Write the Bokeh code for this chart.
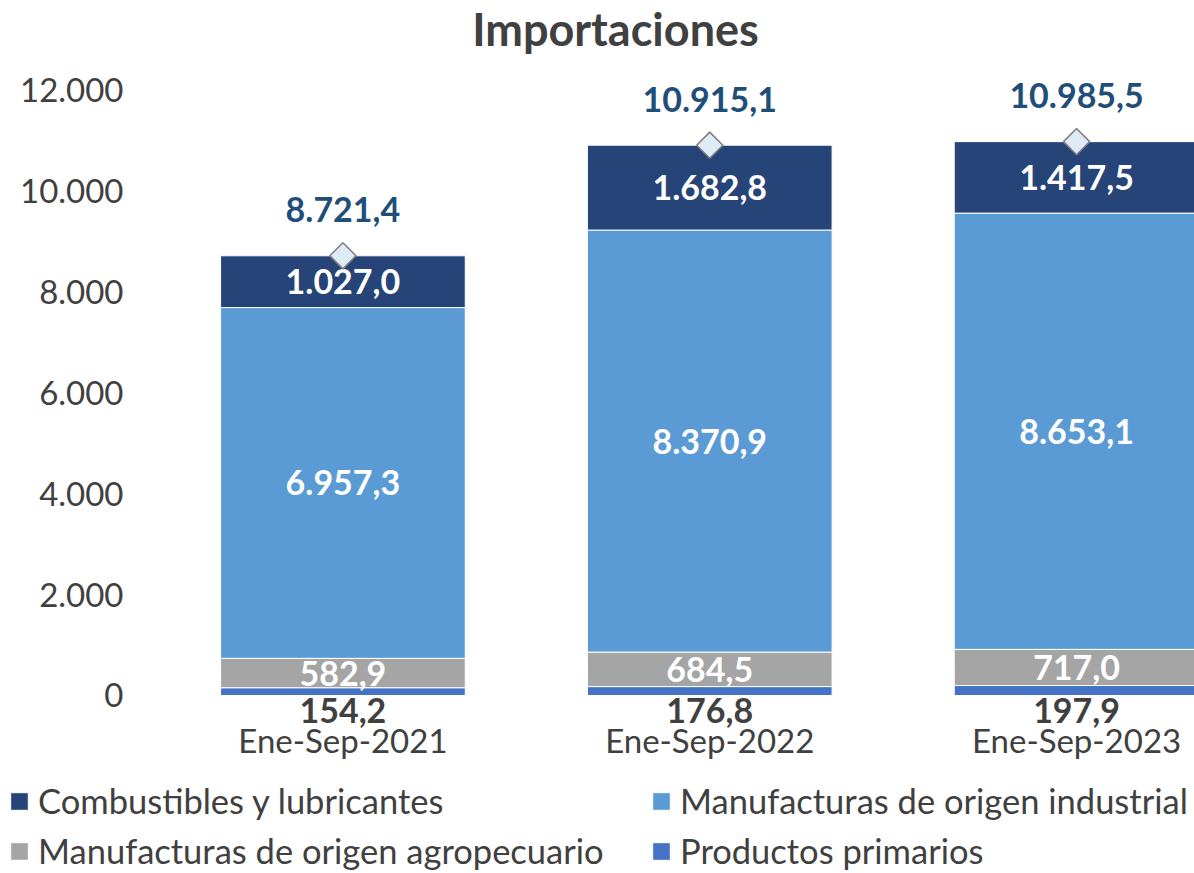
from bokeh.plotting import figure
from bokeh.models import ColumnDataSource, Range1d, Legend, LegendItem, Label
from bokeh.core.properties import value
from bokeh.embed import file_html
from bokeh.resources import INLINE

categories = ["Ene-Sep-2021", "Ene-Sep-2022", "Ene-Sep-2023"]
productos_primarios = [154.2, 176.8, 197.9]
manuf_agropecuario = [582.9, 684.5, 717.0]
manuf_industrial = [6957.3, 8370.9, 8653.1]
combustibles = [1027.0, 1682.8, 1417.5]
totales = [8721.4, 10915.1, 10985.5]
y_ticks = [0, 2000, 4000, 6000, 8000, 10000, 12000]
y_tick_labels = ["0", "2.000", "4.000", "6.000", "8.000", "10.000", "12.000"]

title_text = "Importaciones"
series_names = ["Combustibles y lubricantes", "Manufacturas de origen industrial",
                "Manufacturas de origen agropecuario", "Productos primarios"]
colors = {"comb": "#264478", "ind": "#5B9BD5", "agro": "#A5A5A5", "prim": "#4472C4"}
FONT = "Lato"
DARK = "#404040"


def fmt(v):
    s = f"{v:,.1f}"
    return s.replace(",", "X").replace(".", ",").replace("X", ".")


xs = list(range(len(categories)))
src = ColumnDataSource(dict(
    x=xs,
    cat=categories,
    prim=productos_primarios,
    agro=manuf_agropecuario,
    ind=manuf_industrial,
    comb=combustibles,
    total=totales,
    zero=[0] * len(xs),
    agro_mid=[p + a / 2 for p, a in zip(productos_primarios, manuf_agropecuario)],
    ind_mid=[p + a + i / 2 for p, a, i in zip(productos_primarios, manuf_agropecuario, manuf_industrial)],
    comb_mid=[p + a + i + c / 2 for p, a, i, c in zip(productos_primarios, manuf_agropecuario,
                                                      manuf_industrial, combustibles)],
    prim_lbl=[fmt(v) for v in productos_primarios],
    agro_lbl=[fmt(v) for v in manuf_agropecuario],
    ind_lbl=[fmt(v) for v in manuf_industrial],
    comb_lbl=[fmt(v) for v in combustibles],
    total_lbl=[fmt(v) for v in totales],
))
tick_src = ColumnDataSource(dict(
    x=[xs[0] - 0.5] * len(y_ticks),
    y=y_ticks,
    lbl=y_tick_labels,
))

W, H = 1194, 873

p = figure(width=W, height=H, output_backend="svg", toolbar_location=None, title=None,
           x_range=Range1d(-0.93348, 2.3215), y_range=Range1d(-3530.6, 13785),
           x_axis_location=None, y_axis_location=None,
           min_border_left=0, min_border_right=0, min_border_top=0, min_border_bottom=0)
p.grid.grid_line_color = None
p.outline_line_color = None

p.add_layout(Label(x=615, y=H - 28, x_units="screen", y_units="screen",
                   text=title_text, text_align="center", text_baseline="middle",
                   text_font=FONT, text_font_size="45px", text_font_style="bold",
                   text_color=DARK))

rs = p.vbar_stack(["prim", "agro", "ind", "comb"], x="x", width=0.667, source=src,
                  color=[colors["prim"], colors["agro"], colors["ind"], colors["comb"]],
                  line_color="white", line_width=1)

# value axis labels
p.text(x="x", y="y", text="lbl", source=tick_src, x_offset=-36, text_align="right",
       text_baseline="middle", text_font=value(FONT), text_font_size="33px", text_color=DARK)
# category labels
p.text(x="x", y="zero", text="cat", source=src, y_offset=45, text_align="center",
       text_baseline="middle", text_font=value(FONT), text_font_size="33px", text_color=DARK)

lbl_kw = dict(source=src, text_align="center", text_baseline="middle",
              text_font=value(FONT), text_font_style="bold", text_font_size="34px")
p.text(x="x", y="agro_mid", text="agro_lbl", text_color="white", **lbl_kw)
p.text(x="x", y="ind_mid", text="ind_lbl", text_color="white", **lbl_kw)
p.text(x="x", y="comb_mid", text="comb_lbl", text_color="white", **lbl_kw)
p.text(x="x", y="zero", text="prim_lbl", text_color=DARK, y_offset=15, **lbl_kw)
p.text(x="x", y="total", text="total_lbl", text_color="#1F4E79", y_offset=-46, **lbl_kw)

p.scatter(x="x", y="total", source=src, marker="square", angle=0.785398, size=18.5,
          fill_color="#DEEBF7", line_color="#7F7F7F", line_width=1.5)

leg_kw = dict(orientation="vertical", label_text_font=FONT, label_text_font_size="34.5px",
              label_text_color=DARK, glyph_width=22, glyph_height=22, label_height=36,
              spacing=9, padding=0, margin=0, label_standoff=8, border_line_color=None,
              background_fill_alpha=0)
legend_a = Legend(items=[LegendItem(label=series_names[0], renderers=[rs[3]]),
                         LegendItem(label=series_names[2], renderers=[rs[1]])],
                  location=(8, 2), **leg_kw)
legend_b = Legend(items=[LegendItem(label=series_names[1], renderers=[rs[2]]),
                         LegendItem(label=series_names[3], renderers=[rs[0]])],
                  location=(650, 2), **leg_kw)
p.add_layout(legend_a, "center")
p.add_layout(legend_b, "center")

open("out.html", "w").write(file_html(p, INLINE))
